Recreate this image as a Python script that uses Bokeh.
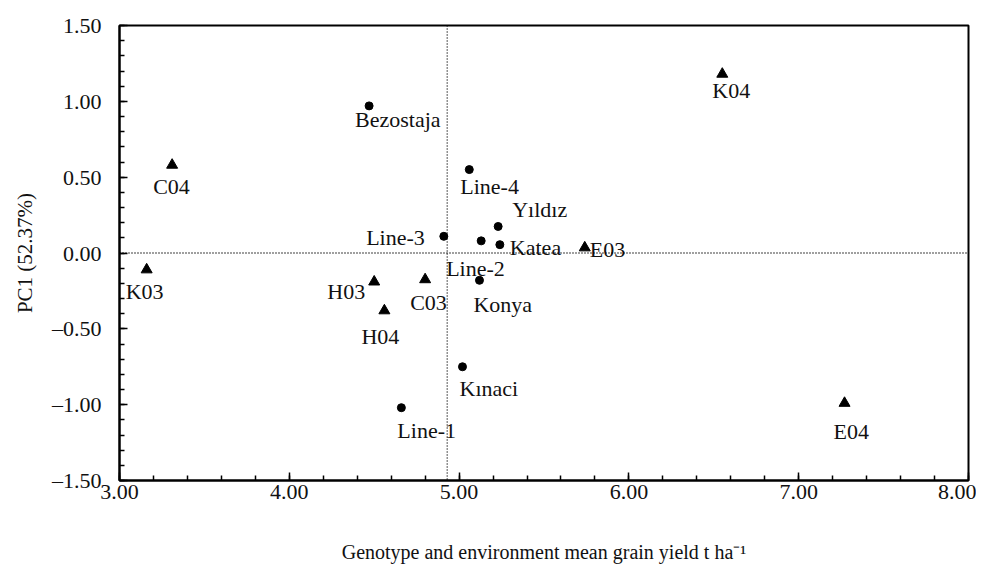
from bokeh.plotting import figure
from bokeh.models import ColumnDataSource, Span, FixedTicker, CustomJSTickFormatter, Range1d
from bokeh.core.properties import value
from bokeh.embed import file_html
from bokeh.resources import INLINE
import numpy as np

# ---- data ----
env_names = ["C04", "K03", "K04", "E03", "H03", "C03", "H04", "E04"]
env_yield = [3.31, 3.16, 6.55, 5.74, 4.50, 4.80, 4.56, 7.27]
env_pc1 = [0.58, -0.11, 1.18, 0.035, -0.19, -0.175, -0.38, -0.99]

gen_names = ["Bezostaja", "Line-4", "Yıldız", "Line-3", "Line-2", "Katea",
             "Konya", "Kınaci", "Line-1"]
gen_yield = [4.47, 5.06, 5.23, 4.91, 5.13, 5.24, 5.12, 5.02, 4.66]
gen_pc1 = [0.97, 0.55, 0.175, 0.11, 0.08, 0.055, -0.18, -0.75, -1.02]

mean_yield = 4.93
x_ticks = [3, 4, 5, 6, 7, 8]
y_ticks = [-1.5, -1.0, -0.5, 0.0, 0.5, 1.0, 1.5]

# ---- label placement (screen px offsets, style only) ----
env_dx = [-19, -21, -10, 5, -9, -15, -23, -11]
env_dy = [21, 22, 16, 2, 10, 23, 26, 28]
env_align = ["left", "left", "left", "left", "right", "left", "left", "left"]
gen_dx = [-14, -9, 14, -19, -35, 10, -6, -3, -4]
gen_dy = [14, 17, -17, 1, 28, 3, 24, 22, 23]
gen_align = ["left", "left", "left", "right", "left", "left", "left", "left", "left"]

FONT = "Liberation Serif"

p = figure(width=976, height=570, output_backend="svg", toolbar_location=None,
           x_range=Range1d(3, 8), y_range=Range1d(-1.5, 1.5),
           min_border_left=119, min_border_right=8, min_border_top=25,
           min_border_bottom=90)
p.xgrid.visible = False
p.ygrid.visible = False
p.outline_line_color = "black"
p.outline_line_width = 2
p.background_fill_color = "white"
p.border_fill_color = "white"

fmt = CustomJSTickFormatter(code="return tick.toFixed(2).replace('-', '\u2013');")

p.xaxis.ticker = FixedTicker(ticks=x_ticks,
                             minor_ticks=list(np.round(np.arange(3, 8.0001, 0.2), 2)))
p.yaxis.ticker = FixedTicker(ticks=y_ticks,
                             minor_ticks=list(np.round(np.arange(-1.5, 1.5001, 0.1), 2)))
for ax in (p.xaxis[0], p.yaxis[0]):
    ax.formatter = fmt
    ax.axis_line_width = 2
    ax.axis_line_color = "black"
    ax.major_tick_in = 8
    ax.major_tick_out = 0
    ax.minor_tick_in = 5
    ax.minor_tick_out = 0
    ax.major_tick_line_width = 1.5
    ax.minor_tick_line_width = 1.5
    ax.major_label_text_font = FONT
    ax.major_label_text_font_size = "22px"
    ax.major_label_text_color = "#111111"
    ax.axis_label_text_font = FONT
    ax.axis_label_text_font_style = "normal"
    ax.axis_label_text_color = "#111111"

p.xaxis.axis_label = "Genotype and environment mean grain yield t ha\u207b\u00b9"
p.xaxis.axis_label_text_font_size = "20px"
p.xaxis.major_label_standoff = 4
p.xaxis.axis_label_standoff = 39
p.yaxis.axis_label = "PC1 (52.37%)"
p.yaxis.axis_label_text_font_size = "21px"
p.yaxis.major_label_standoff = 18
p.yaxis.axis_label_standoff = 12

p.add_layout(Span(location=mean_yield, dimension="height", line_color="black",
                  line_width=1.3, line_dash="1 2"))
p.add_layout(Span(location=0, dimension="width", line_color="black",
                  line_width=1.3, line_dash="1 2"))

env_src = ColumnDataSource(dict(x=env_yield, y=env_pc1, name=env_names,
                                dx=env_dx, dy=env_dy, align=env_align))
gen_src = ColumnDataSource(dict(x=gen_yield, y=gen_pc1, name=gen_names,
                                dx=gen_dx, dy=gen_dy, align=gen_align))

p.scatter("x", "y", source=env_src, marker="triangle", size=11,
          fill_color="black", line_color="black")
p.scatter("x", "y", source=gen_src, marker="circle", size=8,
          fill_color="black", line_color="black")

for src in (env_src, gen_src):
    p.text("x", "y", text="name", source=src, x_offset="dx", y_offset="dy",
           text_align="align", text_baseline="middle",
           text_font=value(FONT), text_font_size="22px", text_color="#111111")

open("out.html", "w").write(file_html(p, INLINE))
